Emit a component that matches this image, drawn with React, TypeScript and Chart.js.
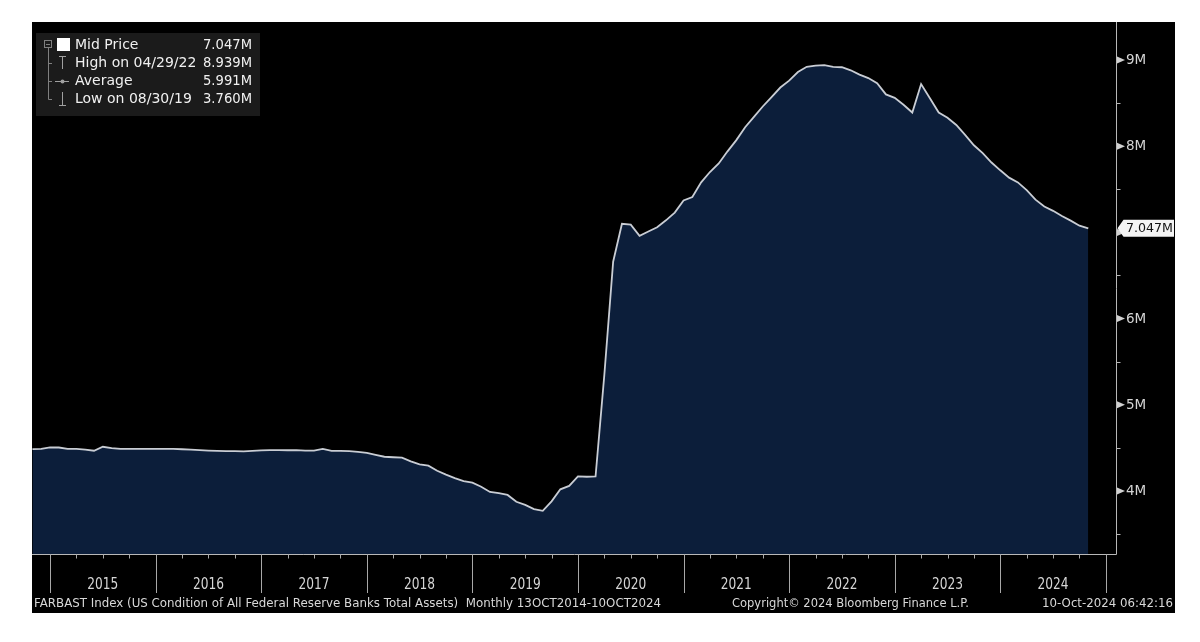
import React, { useEffect, useRef } from 'react';
import { Chart, registerables } from 'chart.js';

Chart.register(...registerables);

// ---- Data (FARBAST, monthly, millions USD shown as "M") ----
// First point: end of Oct 2014, last point: Oct 2024
const firstYear = 2014;
const firstMonth = 10;
const totalAssetsM: number[] = [
  4.487, 4.490, 4.507, 4.505, 4.490, 4.490, 4.480, 4.468, 4.514, 4.497,
  4.490, 4.490, 4.490, 4.490, 4.490, 4.490, 4.490, 4.485, 4.480, 4.475,
  4.470, 4.466, 4.462, 4.462, 4.460, 4.465, 4.472, 4.475, 4.475, 4.473,
  4.474, 4.468, 4.468, 4.488, 4.466, 4.465, 4.463, 4.455, 4.444, 4.420,
  4.398, 4.392, 4.388, 4.345, 4.310, 4.295, 4.236, 4.190, 4.150, 4.116,
  4.097, 4.050, 3.990, 3.975, 3.955, 3.876, 3.840, 3.790, 3.770, 3.880,
  4.020, 4.060, 4.170, 4.166, 4.170, 5.350, 6.660, 7.100, 7.090, 6.960,
  7.010, 7.060, 7.140, 7.230, 7.370, 7.410, 7.580, 7.700, 7.800, 7.940,
  8.070, 8.220, 8.340, 8.460, 8.570, 8.680, 8.760, 8.860, 8.920, 8.935,
  8.939, 8.920, 8.915, 8.880, 8.830, 8.790, 8.730, 8.600, 8.560, 8.480,
  8.390, 8.720, 8.555, 8.390, 8.330, 8.246, 8.130, 8.010, 7.920, 7.810,
  7.720, 7.635, 7.580, 7.490, 7.380, 7.300, 7.250, 7.190, 7.136, 7.078,
  7.047,
];

const yearLabels = ['2015', '2016', '2017', '2018', '2019', '2020', '2021', '2022', '2023', '2024'];
const yMajorTicks = [4, 5, 6, 7, 8, 9];
const yMajorLabels = ['4M', '5M', '6M', '7M', '8M', '9M'];
const yMinorTicks = [3.5, 4.5, 5.5, 6.5, 7.5, 8.5];
const lastValue = 7.047;
const lastValueLabel = '7.047M';

const legendLabels = ['Mid Price', 'High on 04/29/22', 'Average', 'Low on 08/30/19'];
const legendValues = ['7.047M', '8.939M', '5.991M', '3.760M'];

const footerLeft = 'FARBAST Index (US Condition of All Federal Reserve Banks Total Assets)  Monthly 13OCT2014-10OCT2024';
const footerMid = 'Copyright\u00A9 2024 Bloomberg Finance L.P.';
const footerRight = '10-Oct-2024 06:42:16';

// month index of Jan 1 of a given year (points are at month ends)
const janIndex = (y: number) => (y - firstYear - 1) * 12 + (12 - firstMonth);

const FONT = '"DejaVu Sans", "Liberation Sans", sans-serif';

function drawText(
  ctx: CanvasRenderingContext2D,
  s: string,
  x: number,
  y: number,
  size: number,
  color: string,
  align: CanvasTextAlign,
  maxW?: number
) {
  ctx.font = `${size}px ${FONT}`;
  ctx.fillStyle = color;
  ctx.textAlign = align;
  ctx.textBaseline = 'middle';
  if (maxW) ctx.fillText(s, x, y, maxW);
  else ctx.fillText(s, x, y);
}

const decorPlugin = {
  id: 'bbgDecor',
  beforeDraw(chart: any) {
    const ctx: CanvasRenderingContext2D = chart.ctx;
    ctx.save();
    ctx.fillStyle = '#ffffff';
    ctx.fillRect(0, 0, chart.width, chart.height);
    ctx.fillStyle = '#000000';
    ctx.fillRect(32, 22, 1175 - 32, 613 - 22);
    ctx.restore();
  },
  afterDraw(chart: any) {
    const ctx: CanvasRenderingContext2D = chart.ctx;
    const xs = chart.scales.x;
    const ys = chart.scales.y;
    const area = chart.chartArea;
    ctx.save();

    // axis lines
    ctx.strokeStyle = '#b8b8b8';
    ctx.lineWidth = 1;
    ctx.beginPath();
    ctx.moveTo(Math.round(area.right) + 0.5, area.top);
    ctx.lineTo(Math.round(area.right) + 0.5, Math.round(area.bottom) + 0.5);
    ctx.lineTo(area.left, Math.round(area.bottom) + 0.5);
    ctx.stroke();

    // x quarterly ticks
    const bottom = Math.round(area.bottom) + 0.5;
    ctx.strokeStyle = '#a8a8a8';
    for (let k = janIndex(2015) - 3; k <= xs.max; k += 3) {
      if (k < xs.min) continue;
      const px = Math.round(xs.getPixelForValue(k)) + 0.5;
      ctx.beginPath();
      ctx.moveTo(px, bottom);
      ctx.lineTo(px, bottom + 4);
      ctx.stroke();
    }
    // year separators
    for (let y = 2015; y <= 2025; y++) {
      const k = janIndex(y);
      if (k > xs.max) continue;
      const px = Math.round(xs.getPixelForValue(k)) + 0.5;
      ctx.beginPath();
      ctx.moveTo(px, bottom);
      ctx.lineTo(px, 593);
      ctx.stroke();
    }
    // year labels
    yearLabels.forEach((lab) => {
      const y = Number(lab);
      const cx = (xs.getPixelForValue(janIndex(y)) + xs.getPixelForValue(janIndex(y + 1))) / 2;
      drawText(ctx, lab, cx, 585, 16, '#d6d6d6', 'center', 31);
    });

    // y ticks
    const axX = Math.round(area.right) + 0.5;
    ctx.strokeStyle = '#b8b8b8';
    yMinorTicks.forEach((v) => {
      const py = Math.round(ys.getPixelForValue(v)) + 0.5;
      ctx.beginPath();
      ctx.moveTo(axX, py);
      ctx.lineTo(axX + 4, py);
      ctx.stroke();
    });
    yMajorTicks.forEach((v, i) => {
      const py = ys.getPixelForValue(v);
      ctx.fillStyle = '#d0d0d0';
      ctx.beginPath();
      ctx.moveTo(axX + 0.5, py - 3.5);
      ctx.lineTo(axX + 8.5, py);
      ctx.lineTo(axX + 0.5, py + 3.5);
      ctx.closePath();
      ctx.fill();
      if (Math.abs(v - lastValue) > 0.15) drawText(ctx, yMajorLabels[i], axX + 9.5, py + 0.5, 13.5, '#d4d4d4', 'left');
    });

    // last value label
    const ly = ys.getPixelForValue(lastValue);
    ctx.fillStyle = '#f4f4f4';
    ctx.beginPath();
    ctx.moveTo(axX + 1, ly);
    ctx.lineTo(axX + 7, ly - 8.5);
    ctx.lineTo(1174, ly - 8.5);
    ctx.lineTo(1174, ly + 8.5);
    ctx.lineTo(axX + 7, ly + 8.5);
    ctx.closePath();
    ctx.fill();
    drawText(ctx, lastValueLabel, axX + 9.5, ly + 0.5, 13, '#111111', 'left', 47);

    // legend box
    ctx.fillStyle = '#1b1b1b';
    ctx.fillRect(36, 33, 224, 83);
    const rows = [45, 63, 81, 99];
    // tree
    ctx.strokeStyle = '#808080';
    ctx.lineWidth = 1;
    ctx.strokeRect(44.5, 40.5, 7, 7);
    ctx.beginPath();
    ctx.moveTo(46, 44.5);
    ctx.lineTo(50, 44.5);
    ctx.moveTo(48.5, 48);
    ctx.lineTo(48.5, rows[3] + 0.5);
    [rows[1], rows[2], rows[3]].forEach((ry) => {
      ctx.moveTo(48.5, ry + 0.5);
      ctx.lineTo(52, ry + 0.5);
    });
    ctx.stroke();
    // icons
    ctx.fillStyle = '#ffffff';
    ctx.fillRect(57, 38, 13, 13);
    ctx.strokeStyle = '#a0a0a0';
    ctx.beginPath();
    ctx.moveTo(59, 56.5);
    ctx.lineTo(66, 56.5);
    ctx.moveTo(62.5, 56.5);
    ctx.lineTo(62.5, 69);
    ctx.moveTo(55, 81.5);
    ctx.lineTo(69, 81.5);
    ctx.moveTo(62.5, 92);
    ctx.lineTo(62.5, 105);
    ctx.moveTo(59, 105.5);
    ctx.lineTo(66, 105.5);
    ctx.stroke();
    ctx.fillStyle = '#a0a0a0';
    ctx.beginPath();
    ctx.arc(62.5, 81.5, 2, 0, Math.PI * 2);
    ctx.fill();
    legendLabels.forEach((lab, i) => {
      drawText(ctx, lab, 75, rows[i] + 0.5, 14, '#f0f0f0', 'left');
      drawText(ctx, legendValues[i], 252, rows[i] + 0.5, 14, '#f0f0f0', 'right', 49);
    });

    // footer
    drawText(ctx, footerLeft, 34, 604, 13, '#d8d8d8', 'left', 627);
    drawText(ctx, footerMid, 732, 604, 13, '#d8d8d8', 'left', 237);
    drawText(ctx, footerRight, 1173, 604, 13, '#d8d8d8', 'right', 131);

    ctx.restore();
  },
};

export default function App() {
  const canvasRef = useRef<HTMLCanvasElement | null>(null);

  useEffect(() => {
    document.body.style.margin = '0';
    const canvas = canvasRef.current;
    if (!canvas) return;
    const points = totalAssetsM.map((v, i) => ({ x: i, y: v }));
    const chart = new Chart(canvas, {
      type: 'line',
      data: {
        datasets: [
          {
            label: 'Mid Price',
            data: points,
            borderColor: '#c9cdd4',
            borderWidth: 1.8,
            backgroundColor: '#0c1e3a',
            fill: 'start',
            pointRadius: 0,
            tension: 0,
          },
        ],
      },
      options: {
        responsive: false,
        animation: false,
        devicePixelRatio: 1,
        layout: { padding: { left: 32, top: 22, right: 84, bottom: 88 } },
        scales: {
          x: { type: 'linear', min: -0.05, max: 123.15, display: false },
          y: { type: 'linear', min: 3.27, max: 9.44, display: false },
        },
        plugins: {
          legend: { display: false },
          tooltip: { enabled: false },
        },
      },
      plugins: [decorPlugin],
    });
    return () => chart.destroy();
  }, []);

  return (
    <div style={{ position: 'absolute', left: 0, top: 0, width: 1200, height: 642 }}>
      <canvas ref={canvasRef} width={1200} height={642} style={{ display: 'block' }} />
    </div>
  );
}
